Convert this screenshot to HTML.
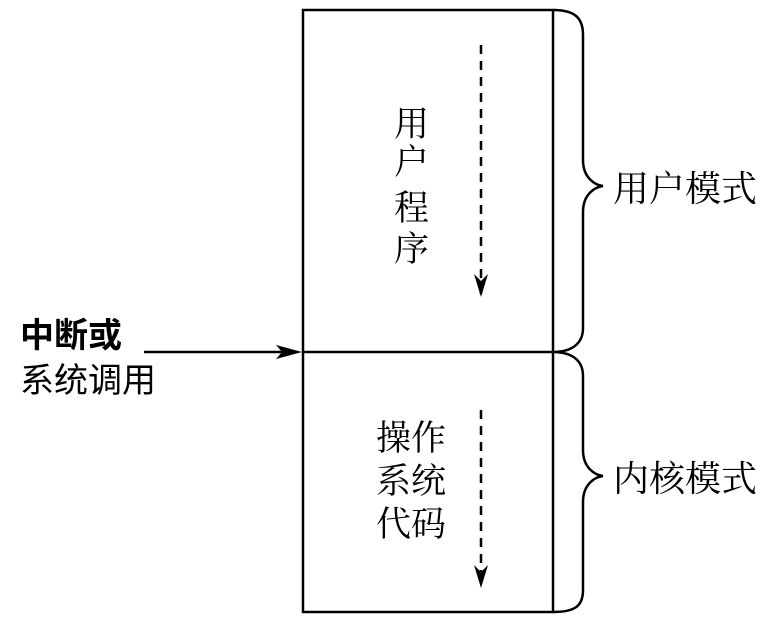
<!DOCTYPE html>
<html><head><meta charset="utf-8"><style>
html,body{margin:0;padding:0;background:#fff;}
svg{display:block;}
text{font-family:"Liberation Serif","Noto Serif CJK SC",serif;font-size:33px;fill:#000;}
.s{font-family:"Liberation Sans","Noto Sans CJK SC",sans-serif;}
</style></head><body>
<svg width="777" height="627" viewBox="0 0 777 627" xmlns="http://www.w3.org/2000/svg">
<rect x="303" y="10" width="250" height="602" fill="none" stroke="#000" stroke-width="2.5"/>
<line x1="303" y1="352" x2="553" y2="352" stroke="#000" stroke-width="2.5"/>
<line x1="144" y1="352" x2="290" y2="352" stroke="#000" stroke-width="2.5"/>
<path d="M276,345 L302,352 L276,359 L282,352 Z" fill="#000"/>
<line x1="481" y1="45" x2="481" y2="296" stroke="#000" stroke-width="2.5" stroke-dasharray="9,7"/>
<path d="M474,274 L481,297 L488,274 L481,281 Z" fill="#000"/>
<line x1="481" y1="410" x2="481" y2="586" stroke="#000" stroke-width="2.5" stroke-dasharray="9,7"/>
<path d="M474,565 L481,588 L488,565 L481,572 Z" fill="#000"/>
<path d="M553,10 C575,10 583,18 583,35 L583,160 C583,178 595,185 603,186 C595,187 583,194 583,212 L583,328 C583,345 570,352 553,352 C570,352 583,359 583,376 L583,450 C583,468 595,475 603,476 C595,477 583,484 583,502 L583,590 C583,606 575,612 553,612" fill="none" stroke="#000" stroke-width="2.5"/>
<text x="613" y="201" style="font-size:36px">用户模式</text>
<text x="613" y="491" style="font-size:36px">内核模式</text>
<text class="s" x="20" y="347" style="font-size:34px;font-weight:bold">中断或</text>
<text class="s" x="20" y="392" style="font-size:34px">系统调用</text>
<text x="394" y="136" style="font-size:35px">用</text>
<text x="394" y="174" style="font-size:35px">户</text>
<text x="394" y="220" style="font-size:35px">程</text>
<text x="394" y="261" style="font-size:35px">序</text>
<text x="376" y="450" style="font-size:35px">操作</text>
<text x="376" y="493" style="font-size:35px">系统</text>
<text x="376" y="536" style="font-size:35px">代码</text>
</svg>
</body></html>
